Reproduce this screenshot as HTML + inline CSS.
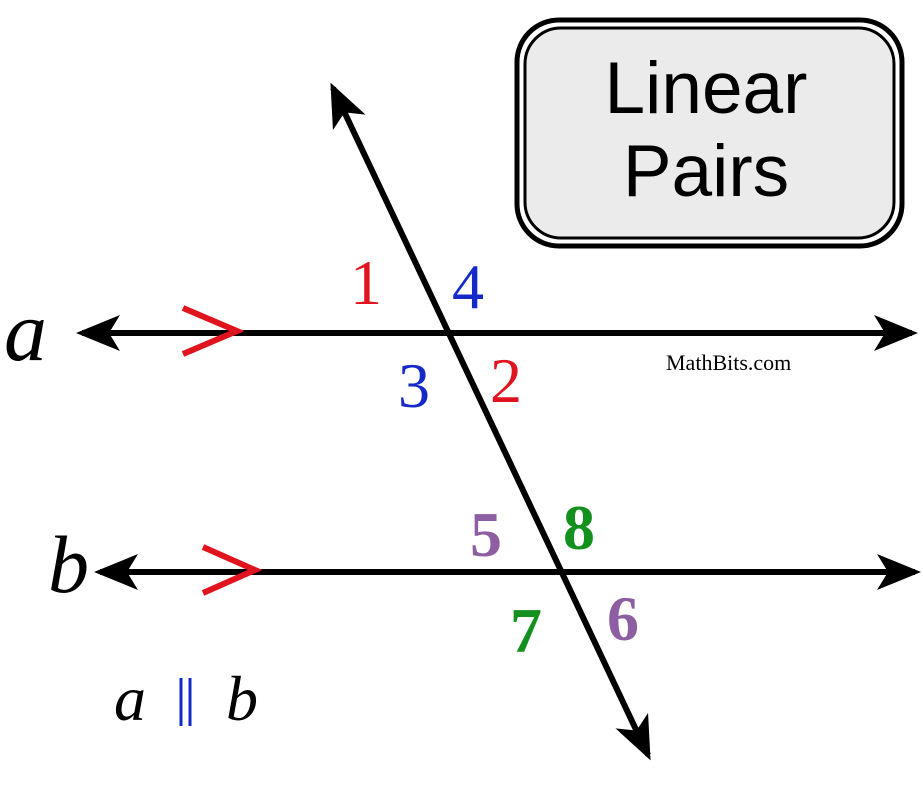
<!DOCTYPE html>
<html><head><style>body{margin:0;background:#fff}svg{display:block}</style></head><body>
<svg width="923" height="799" viewBox="0 0 923 799" xmlns="http://www.w3.org/2000/svg">
<defs>
<marker id="ah" viewBox="0 0 44 44" refX="38" refY="22" markerWidth="44" markerHeight="44" markerUnits="userSpaceOnUse" orient="auto-start-reverse">
<path d="M0,4 L44,22 L0,40 L11,22 Z" fill="#000"/>
</marker>
</defs>
<rect x="517" y="20" width="385" height="226" rx="42" fill="#fff" stroke="#000" stroke-width="5"/>
<rect x="525" y="28" width="369" height="210" rx="36" fill="#ebebeb" stroke="#000" stroke-width="3"/>
<text x="706" y="113" font-family="Liberation Sans, sans-serif" font-size="73" text-anchor="middle" fill="#000">Linear</text>
<text x="706" y="196" font-family="Liberation Sans, sans-serif" font-size="73" text-anchor="middle" fill="#000">Pairs</text>
<line x1="82" y1="333" x2="912" y2="333" stroke="#000" stroke-width="6" marker-start="url(#ah)" marker-end="url(#ah)"/>
<line x1="100" y1="572" x2="915" y2="572" stroke="#000" stroke-width="6" marker-start="url(#ah)" marker-end="url(#ah)"/>
<line x1="333" y1="88" x2="648" y2="755" stroke="#000" stroke-width="6" marker-start="url(#ah)" marker-end="url(#ah)"/>
<polyline points="183,308 237,331 183,354" fill="none" stroke="#e0141e" stroke-width="6"/>
<polyline points="203,547 255,570 203,593" fill="none" stroke="#e0141e" stroke-width="6"/>
<g font-family="Liberation Serif, serif" font-size="64">
<text x="350" y="304" fill="#e0141e">1</text>
<text x="452" y="308" fill="#1528c8">4</text>
<text x="398" y="407" fill="#1528c8">3</text>
<text x="490" y="402" fill="#e0141e">2</text>
<text x="470" y="556" fill="#8e5ea2" font-weight="bold">5</text>
<text x="563" y="549" fill="#13901e" font-weight="bold">8</text>
<text x="510" y="652" fill="#13901e" font-weight="bold">7</text>
<text x="607" y="640" fill="#8e5ea2" font-weight="bold">6</text>
</g>
<text x="4" y="360" font-family="Liberation Serif, serif" font-style="italic" font-size="86" fill="#000">a</text>
<text x="48" y="592" font-family="Liberation Serif, serif" font-style="italic" font-size="82" fill="#000">b</text>
<text x="114" y="720" font-family="Liberation Serif, serif" font-style="italic" font-size="64" fill="#000">a</text>
<line x1="181" y1="678" x2="181" y2="726" stroke="#1528c8" stroke-width="3"/>
<line x1="190" y1="678" x2="190" y2="726" stroke="#1528c8" stroke-width="3"/>
<text x="226" y="720" font-family="Liberation Serif, serif" font-style="italic" font-size="64" fill="#000">b</text>
<text x="666" y="370" font-family="Liberation Serif, serif" font-size="22" fill="#000">MathBits.com</text>
</svg>
</body></html>
